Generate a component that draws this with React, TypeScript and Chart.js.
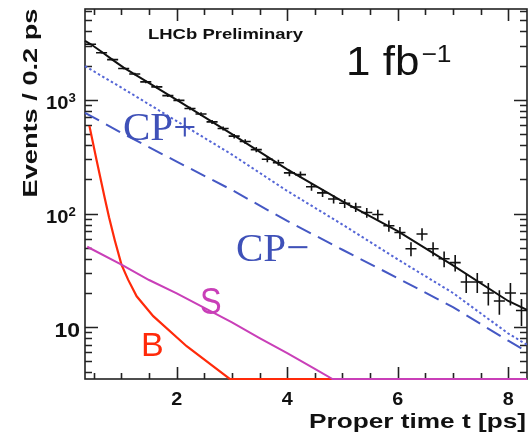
import React, { useEffect, useRef } from "react";
import { Chart, registerables } from "chart.js";

Chart.register(...registerables);

// ---------- axis ranges ----------
const X_MIN = 0.34;
const X_MAX = 8.34;
const Y_MIN = 3.5;
const Y_MAX = 6300;

// ---------- measured data (events per 0.2 ps bin) ----------
const binCenters = [
  0.44, 0.64, 0.84, 1.04, 1.24, 1.44, 1.64, 1.84, 2.04, 2.24,
  2.44, 2.64, 2.84, 3.04, 3.24, 3.44, 3.64, 3.84, 4.04, 4.24,
  4.44, 4.64, 4.84, 5.04, 5.24, 5.44, 5.64, 5.84, 6.04, 6.24,
  6.44, 6.64, 6.84, 7.04, 7.24, 7.44, 7.64, 7.84, 8.04, 8.24,
];
const binCounts = [
  3080, 2600, 2260, 1890, 1690, 1440, 1300, 1090, 990, 840,
  750, 640, 560, 480, 430, 365, 300, 280, 228, 220,
  172, 152, 134, 123, 114, 102, 98, 78, 68, 49,
  66, 49, 40, 37, 25, 25, 20, 17, 20, 14,
];
const BIN_HALF = 0.1;

// ---------- fit components ----------
const totalT = [0.34, 0.44, 0.64, 0.84, 1.04, 2, 3, 4, 5, 6, 7, 8, 8.34];
const totalN = [3300, 3100, 2650, 2250, 1920, 1000, 500, 245, 128, 70, 35, 17, 14.2];

const cpPlusT = [0.34, 1, 2, 3, 4, 5, 6, 7, 8, 8.34];
const cpPlusN = [1980, 1280, 650, 330, 158, 80, 39.5, 20, 8.8, 7.0];

const cpMinusT = [0.34, 1, 2, 3, 4, 5, 6, 7, 8, 8.34];
const cpMinusN = [770, 513, 286, 161, 86, 48, 27, 15, 7.6, 6.1];

const sigT = [0.38, 1.0, 1.5, 2.0, 2.5, 3.0, 3.5, 4.0, 4.5, 4.82, 8.34];
const sigN = [51, 35.5, 26, 19.8, 14.8, 11, 8, 5.9, 4.3, Y_MIN, Y_MIN];

const bkgT = [0.42, 0.55, 0.7, 0.775, 0.88, 1.0, 1.12, 1.275, 1.575, 2.18, 2.96, 8.34];
const bkgN = [590, 294, 135, 92.6, 58, 35.5, 26.2, 18.7, 12.5, 6.8, Y_MIN, Y_MIN];

// ---------- ticks ----------
const xLabelTicks = [2, 4, 6, 8];
const xMinorTicks = [0.5, 1, 1.5, 2.5, 3, 3.5, 4.5, 5, 5.5, 6.5, 7, 7.5];
const yLabelTicks = [10, 100, 1000];
const yLabelExps = ["", "2", "3"];
const yMinorTicks = [
  4, 5, 6, 7, 8, 9,
  20, 30, 40, 50, 60, 70, 80, 90,
  200, 300, 400, 500, 600, 700, 800, 900,
  2000, 3000, 4000, 5000, 6000,
];

const SANS = '"Liberation Sans", Arial, Helvetica, sans-serif';
const SERIF = '"Liberation Serif", "Times New Roman", serif';
const BLUE = "#3f51b8";
const MAGENTA = "#c93fb8";
const RED = "#ff2a0a";

const pts = (t: number[], n: number[]) => t.map((x, i) => ({ x, y: n[i] }));

function drawText(
  ctx: CanvasRenderingContext2D,
  text: string,
  x: number,
  y: number,
  font: string,
  color: string,
  align: "left" | "center" | "right",
  sx = 1,
  fitWidth?: number
) {
  ctx.save();
  ctx.font = font;
  ctx.fillStyle = color;
  ctx.textAlign = "left";
  ctx.textBaseline = "alphabetic";
  const raw = ctx.measureText(text).width;
  const s = fitWidth ? fitWidth / raw : sx;
  const w = raw * s;
  const x0 = align === "left" ? x : align === "center" ? x - w / 2 : x - w;
  ctx.translate(x0, y);
  ctx.scale(s, 1);
  ctx.fillText(text, 0, 0);
  ctx.restore();
  return w;
}

const rootStyle = {
  id: "rootStyle",
  beforeDatasetsDraw(chart: any) {
    const { ctx, chartArea: a, scales } = chart;
    const xs = scales.x;
    const ys = scales.y;
    ctx.save();
    ctx.strokeStyle = "#222";
    ctx.lineWidth = 1.6;
    ctx.strokeRect(a.left, a.top, a.right - a.left, a.bottom - a.top);
    ctx.beginPath();
    const xTick = (v: number, len: number) => {
      const px = Math.round(xs.getPixelForValue(v)) + 0.5;
      ctx.moveTo(px, a.bottom);
      ctx.lineTo(px, a.bottom - len);
      ctx.moveTo(px, a.top);
      ctx.lineTo(px, a.top + len);
    };
    const yTick = (v: number, len: number) => {
      const py = Math.round(ys.getPixelForValue(v)) + 0.5;
      ctx.moveTo(a.left, py);
      ctx.lineTo(a.left + len, py);
      ctx.moveTo(a.right, py);
      ctx.lineTo(a.right - len, py);
    };
    xLabelTicks.forEach((v) => xTick(v, 12));
    xMinorTicks.forEach((v) => xTick(v, 6));
    yLabelTicks.forEach((v) => yTick(v, 13));
    yMinorTicks.forEach((v) => yTick(v, 7));
    ctx.stroke();
    ctx.restore();
  },
  afterDatasetsDraw(chart: any) {
    const { ctx, chartArea: a, scales } = chart;
    const xs = scales.x;
    const ys = scales.y;

    // error bars of the data points
    ctx.save();
    ctx.beginPath();
    ctx.rect(a.left, a.top, a.right - a.left, a.bottom - a.top);
    ctx.clip();
    ctx.strokeStyle = "#111";
    ctx.lineWidth = 1.6;
    ctx.beginPath();
    binCenters.forEach((c, i) => {
      const n = binCounts[i];
      const e = Math.sqrt(n);
      const px = xs.getPixelForValue(c);
      const py = ys.getPixelForValue(n);
      const x1 = xs.getPixelForValue(c - BIN_HALF);
      const x2 = xs.getPixelForValue(c + BIN_HALF);
      const yHi = ys.getPixelForValue(n + e);
      const yLo = ys.getPixelForValue(n - e);
      ctx.moveTo(x1, py);
      ctx.lineTo(x2, py);
      ctx.moveTo(px, yHi);
      ctx.lineTo(px, yLo);
    });
    ctx.stroke();
    ctx.restore();

    // tick labels
    yLabelTicks.forEach((v, i) => {
      const py = ys.getPixelForValue(v);
      const exp = yLabelExps[i];
      if (exp) {
        drawText(ctx, "10", 68.5, py + 9, `bold 18px ${SANS}`, "#111", "right", 1.12);
        drawText(ctx, exp, 68.5, py + 2.5, `bold 12px ${SANS}`, "#111", "left", 1.1);
      } else {
        drawText(ctx, "10", 80, py + 9.5, `bold 20px ${SANS}`, "#111", "right", 1.15);
      }
    });
    xLabelTicks.forEach((v) => {
      const px = xs.getPixelForValue(v);
      drawText(ctx, String(v), px, 404.5, `bold 18px ${SANS}`, "#111", "center", 1.1);
    });

    // axis titles
    drawText(ctx, "Proper time t [ps]", 309, 428, `bold 21px ${SANS}`, "#111", "left", 1, 217);
    ctx.save();
    ctx.translate(37, 103);
    ctx.rotate(-Math.PI / 2);
    drawText(ctx, "Events / 0.2 ps", 0, 0, `bold 21px ${SANS}`, "#111", "center", 1, 189);
    ctx.restore();

    // annotations
    drawText(ctx, "LHCb Preliminary", 148, 39, `bold 15px ${SANS}`, "#111", "left", 1, 155);
    const w = drawText(ctx, "1 fb", 346, 75, `40px ${SANS}`, "#111", "left", 1.1);
    drawText(ctx, "\u22121", 346 + w + 2, 62, `24px ${SANS}`, "#111", "left", 1.1);

    drawText(ctx, "CP+", 123, 140, `41px ${SERIF}`, BLUE, "left");
    drawText(ctx, "CP\u2212", 236, 261, `41px ${SERIF}`, BLUE, "left");
    drawText(ctx, "S", 200, 314, `36px ${SANS}`, MAGENTA, "left", 0.9);
    drawText(ctx, "B", 141, 356, `34px ${SANS}`, RED, "left");
  },
};

export default function App() {
  const ref = useRef<HTMLCanvasElement | null>(null);

  useEffect(() => {
    document.body.style.margin = "0";
    if (!ref.current) return;
    const chart = new Chart(ref.current, {
      type: "line",
      data: {
        datasets: [
          {
            type: "scatter",
            label: "Data",
            data: pts(binCenters, binCounts),
            pointRadius: 0,
            showLine: false,
          } as any,
          {
            label: "Total",
            data: pts(totalT, totalN),
            borderColor: "#111",
            borderWidth: 2,
            pointRadius: 0,
            tension: 0,
            clip: 3,
          },
          {
            label: "CP+",
            data: pts(cpPlusT, cpPlusN),
            borderColor: "#5566d6",
            borderWidth: 2,
            borderDash: [2.5, 2.5],
            pointRadius: 0,
            tension: 0,
            clip: 3,
          },
          {
            label: "CP-",
            data: pts(cpMinusT, cpMinusN),
            borderColor: "#4558c4",
            borderWidth: 2,
            borderDash: [16, 8],
            pointRadius: 0,
            tension: 0,
            clip: 3,
          },
          {
            label: "S",
            data: pts(sigT, sigN),
            borderColor: MAGENTA,
            borderWidth: 2,
            pointRadius: 0,
            tension: 0,
            clip: 3,
          },
          {
            label: "B",
            data: pts(bkgT, bkgN),
            borderColor: RED,
            borderWidth: 2.2,
            pointRadius: 0,
            tension: 0,
            clip: 3,
          },
        ],
      },
      options: {
        animation: false,
        responsive: false,
        devicePixelRatio: 1,
        parsing: true,
        layout: { padding: { left: 85, right: 3, top: 9, bottom: 59 } },
        plugins: {
          legend: { display: false },
          tooltip: { enabled: false },
        },
        scales: {
          x: { type: "linear", min: X_MIN, max: X_MAX, display: false },
          y: { type: "logarithmic", min: Y_MIN, max: Y_MAX, display: false },
        },
      },
      plugins: [rootStyle],
    });
    return () => chart.destroy();
  }, []);

  return (
    <div style={{ position: "absolute", left: 0, top: 0, width: 530, height: 438, background: "#fff" }}>
      <canvas ref={ref} width={530} height={438} style={{ width: 530, height: 438 }} />
    </div>
  );
}
